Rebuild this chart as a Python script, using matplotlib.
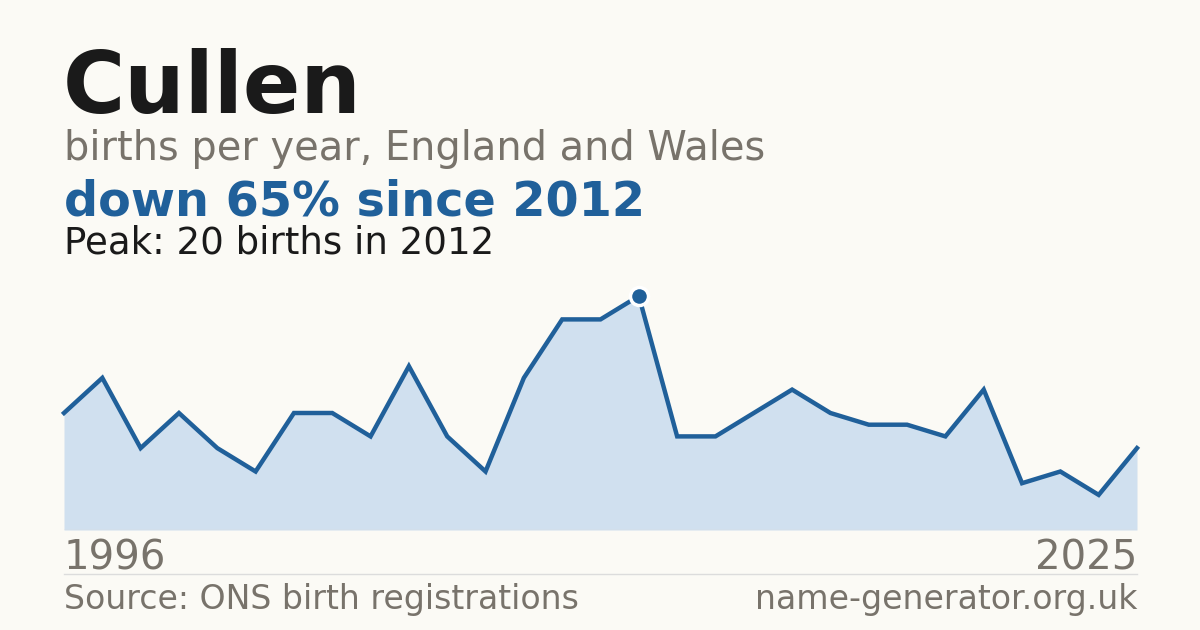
import matplotlib.pyplot as plt

plt.rcParams['font.family'] = ['DejaVu Sans']

# births per year (one year has no record, so 29 points)
years = [1996, 1997, 1998, 1999, 2000, 2001, 2002, 2003, 2004, 2005,
         2006, 2007, 2009, 2010, 2011, 2012, 2013, 2014, 2015, 2016,
         2017, 2018, 2019, 2020, 2021, 2022, 2023, 2024, 2025]
births = [10, 13, 7, 10, 7, 5, 10, 10, 8, 14,
          8, 5, 13, 18, 18, 20, 8, 8, 10, 12,
          10, 9, 9, 8, 12, 4, 5, 3, 7]

name = "Cullen"
subtitle = "births per year, England and Wales"
source = "Source: ONS birth registrations"
site = "name-generator.org.uk"

bg = "#fbfaf5"
blue = "#20609a"
fill = "#d0e0ef"
grey = "#78736b"
dark = "#1a1a1a"

W, H = 1200, 630
fig = plt.figure(figsize=(W / 100, H / 100), dpi=100, facecolor=bg)

left, right = 64, 1137
base, top = 530, 296
ax = fig.add_axes([left / W, 1 - base / H, (right - left) / W, (base - top) / H])
ax.set_facecolor(bg)
ax.patch.set_alpha(0)

x = list(range(len(births)))
ax.fill_between(x, births, 0, color=fill, lw=0)
ax.plot(x, births, color=blue, lw=3.2, solid_joinstyle="miter", clip_on=False)
ax.axhline(0, color="#dcdcdc", lw=1)

peak_i = births.index(max(births))
ax.plot(peak_i, births[peak_i], "o", ms=13, color=blue, mec="white", mew=2.5, clip_on=False, zorder=5)

ax.set_xlim(0, len(births) - 1)
ax.set_ylim(0, max(births))
ax.axis("off")

def px(xp, yp):
    return xp / W, 1 - yp / H

change = round((births[-1] - births[peak_i]) / births[peak_i] * 100)
headline = f"{'down' if change < 0 else 'up'} {abs(change)}% since {years[peak_i]}"
peak_txt = f"Peak: {births[peak_i]} births in {years[peak_i]}"

fig.text(*px(left - 1, 113), name, fontsize=61, fontweight="bold", color=dark, va="baseline")
fig.text(*px(left, 160), subtitle, fontsize=28.7, color=grey, va="baseline")
fig.text(*px(left, 215), headline, fontsize=34.4, fontweight="bold", color=blue, va="baseline")
fig.text(*px(left, 254), peak_txt, fontsize=26.7, color=dark, va="baseline")

fig.text(*px(left, 569), str(years[0]), fontsize=29, color=grey, va="baseline")
fig.text(*px(right, 569), str(years[-1]), fontsize=29, color=grey, va="baseline", ha="right")

fig.add_artist(plt.Line2D([left / W, right / W], [1 - 574 / H, 1 - 574 / H], color="#dcdcdc", lw=1))

fig.text(*px(left, 609), source, fontsize=23.9, color=grey, va="baseline")
fig.text(*px(right, 609), site, fontsize=23.9, color=grey, va="baseline", ha="right")

fig.savefig("out.png", dpi=100, facecolor=bg)
